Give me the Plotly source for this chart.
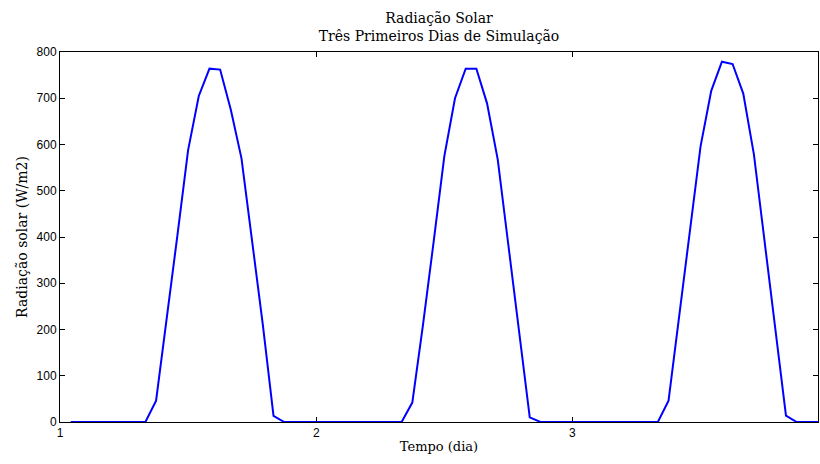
import plotly.graph_objects as go

# Hour index of each sample (hours since day 0), hourly samples
horas = list(range(25, 96))

# Hourly solar radiation (W/m2)
dia1 = [0, 0, 0, 0, 0, 0, 0, 0, 46, 220, 404, 588, 705, 764, 762, 675, 570, 390, 210, 13, 0, 0, 0]          # hours 1..23
dia2 = [0, 0, 0, 0, 0, 0, 0, 0, 0, 42, 210, 390, 575, 700, 764, 764, 689, 568, 385, 200, 10, 0, 0, 0]     # hours 0..23
dia3 = [0, 0, 0, 0, 0, 0, 0, 0, 0, 46, 226, 410, 596, 716, 779, 774, 710, 578, 394, 200, 14, 0, 0, 0]     # hours 0..23
radiacao = dia1 + dia2 + dia3

tempo = [h / 24 for h in horas]

x_ticks = [1, 2, 3]
y_ticks = [0, 100, 200, 300, 400, 500, 600, 700, 800]

fig = go.Figure()
fig.add_trace(go.Scatter(
    x=tempo, y=radiacao, mode="lines",
    line=dict(color="#0000ff", width=2),
    showlegend=False,
))

tick_font = dict(family="Liberation Sans, Arial, sans-serif", size=12, color="black")
serif = "DejaVu Serif, serif"

fig.update_layout(
    width=820, height=464,
    margin=dict(l=60, r=2, t=52, b=42),
    paper_bgcolor="white", plot_bgcolor="white",
    title=dict(
        text="Radiação Solar<br>Três Primeiros Dias de Simulação",
        font=dict(family=serif, size=14, color="black"),
        x=(60 + 818) / 2 / 820, xanchor="center",
        y=1 - 23 / 464, yanchor="top", yref="container",
    ),
    xaxis=dict(
        range=[1, 95 / 24], tickvals=x_ticks, ticktext=[str(v) for v in x_ticks],
        ticks="inside", ticklen=5, tickcolor="black", tickwidth=1,
        showline=True, linecolor="black", linewidth=1, mirror="allticks",
        showgrid=False, zeroline=False, tickfont=tick_font,
        title=dict(text="Tempo (dia)", font=dict(family=serif, size=13, color="black"), standoff=2),
    ),
    yaxis=dict(
        range=[0, 800], tickvals=y_ticks,
        ticks="inside", ticklen=5, tickcolor="black", tickwidth=1,
        showline=True, linecolor="black", linewidth=1, mirror="allticks",
        showgrid=False, zeroline=False, tickfont=tick_font,
        title=dict(text="Radiação solar (W/m2)", font=dict(family=serif, size=14, color="black"), standoff=5),
    ),
)

fig.write_html("out.html")
